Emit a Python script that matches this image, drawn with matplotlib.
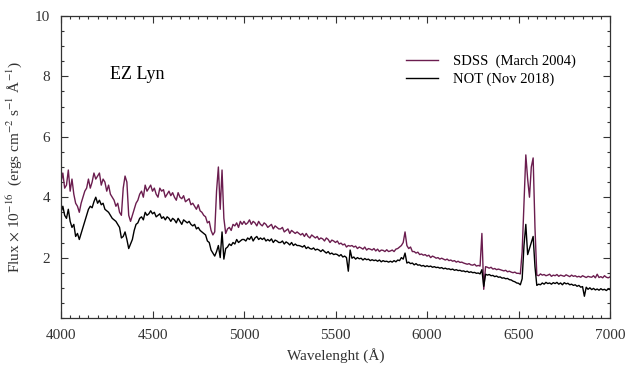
import numpy as np
import matplotlib
matplotlib.use("Agg")
import matplotlib.pyplot as plt
from matplotlib.ticker import MultipleLocator

plt.rcParams['font.family'] = ['Liberation Serif', 'DejaVu Serif']
plt.rcParams['mathtext.fontset'] = 'stix'

# wavelength grid (Angstrom), 10 A steps
wavelength = np.arange(4000, 7001, 10)

sdss_flux = [
    4.5, 4.8, 4.3, 4.4, 4.9, 4.2, 4.6, 4.1, 3.8, 3.7,
    3.5, 3.8, 4.0, 4.2, 4.3, 4.6, 4.3, 4.5, 4.8, 4.6,
    4.7, 4.8, 4.4, 4.6, 4.5, 4.2, 4.4, 4.1, 4.0, 3.9,
    3.7, 3.8, 3.5, 3.4, 4.3, 4.7, 4.5, 3.4, 3.2, 3.4,
    3.6, 3.8, 3.9, 4.1, 4.2, 4.0, 4.4, 4.2, 4.3, 4.4,
    4.2, 4.3, 4.1, 4.0, 4.3, 4.2, 4.25, 4.0, 4.1, 4.2,
    4.05, 4.15, 4.0, 3.9, 4.15, 4.0, 3.95, 4.05, 3.85, 3.9,
    3.95, 3.75, 3.8, 3.7, 3.6, 3.75, 3.55, 3.5, 3.4, 3.35,
    3.15, 3.2, 2.9, 2.75, 2.85, 4.2, 5.0, 3.6, 4.9, 3.3,
    2.8, 2.95, 3.0, 2.9, 3.1, 3.05, 3.15, 3.0, 3.2, 3.1,
    3.2, 3.1, 3.15, 3.25, 3.1, 3.2, 3.15, 3.05, 3.2, 3.1,
    3.05, 3.15, 3.1, 3.0, 3.05, 3.1, 2.95, 3.05, 3.0, 2.95,
    2.95, 3.0, 2.85, 2.9, 2.95, 2.8, 2.9, 2.85, 2.8, 2.85,
    2.8, 2.75, 2.8, 2.7, 2.8, 2.7, 2.65, 2.75, 2.7, 2.65,
    2.7, 2.6, 2.65, 2.62, 2.55, 2.65, 2.6, 2.5, 2.58, 2.55,
    2.5, 2.55, 2.45, 2.48, 2.42, 2.45, 2.35, 2.4, 2.38, 2.4,
    2.35, 2.38, 2.3, 2.35, 2.32, 2.28, 2.35, 2.25, 2.3, 2.28,
    2.25, 2.3, 2.22, 2.28, 2.2, 2.25, 2.24, 2.2, 2.26, 2.2,
    2.22, 2.25, 2.2, 2.28, 2.3, 2.35, 2.4, 2.5, 2.85, 2.4,
    2.3, 2.35, 2.2, 2.2, 2.15, 2.18, 2.1, 2.12, 2.08, 2.1,
    2.05, 2.08, 2.0, 2.05, 2.02, 1.98, 2.0, 1.95, 1.98, 1.95,
    1.92, 1.95, 1.9, 1.92, 1.88, 1.9, 1.85, 1.88, 1.84, 1.85,
    1.82, 1.8, 1.78, 1.8, 1.76, 1.75, 1.78, 1.72, 1.74, 1.72,
    2.8, 0.95, 1.7, 1.68, 1.65, 1.68, 1.62, 1.64, 1.6, 1.62,
    1.6, 1.58, 1.56, 1.58, 1.53, 1.55, 1.52, 1.5, 1.52, 1.48,
    1.48, 1.46, 2.2, 3.8, 5.4, 4.6, 4.0, 5.0, 5.3, 3.0,
    1.42, 1.4, 1.46, 1.42, 1.44, 1.4, 1.42, 1.45, 1.38, 1.42,
    1.4, 1.44, 1.38, 1.42, 1.4, 1.38, 1.43, 1.4, 1.37, 1.42,
    1.38, 1.4, 1.36, 1.38, 1.35, 1.4, 1.37, 1.34, 1.38, 1.36,
    1.35, 1.4, 1.33, 1.45, 1.34, 1.37, 1.33, 1.4, 1.35, 1.33,
    1.36,
]

not_flux = [
    3.5, 3.7, 3.4, 3.3, 3.6, 3.2, 3.0, 3.1, 2.7, 2.8,
    2.6, 2.8, 3.0, 3.2, 3.4, 3.6, 3.7, 3.65, 3.85, 4.0,
    3.8, 3.9, 3.75, 3.8, 3.6, 3.55, 3.5, 3.4, 3.3, 3.25,
    3.2, 3.1, 3.0, 2.65, 2.7, 2.85, 2.6, 2.3, 2.45, 2.6,
    2.9, 3.1, 3.15, 3.3, 3.35, 3.25, 3.5, 3.4, 3.45, 3.55,
    3.45, 3.5, 3.35, 3.4, 3.45, 3.3, 3.35, 3.25, 3.35, 3.3,
    3.2, 3.3, 3.25, 3.15, 3.3, 3.2, 3.1, 3.25, 3.2, 3.15,
    3.2, 3.1, 3.05, 3.1, 2.95, 3.0, 2.9, 2.85, 2.8, 2.75,
    2.55, 2.5, 2.25, 2.15, 2.05, 2.2, 2.4, 2.0, 2.85, 1.95,
    2.3, 2.35, 2.45, 2.4, 2.5, 2.45, 2.6, 2.5, 2.55, 2.6,
    2.6, 2.55, 2.65, 2.6, 2.7, 2.55, 2.65, 2.7, 2.6, 2.65,
    2.6, 2.65, 2.55, 2.6, 2.55, 2.62, 2.5, 2.58, 2.55, 2.5,
    2.5, 2.55, 2.45, 2.52, 2.48, 2.42, 2.5, 2.4, 2.45, 2.4,
    2.4, 2.38, 2.35, 2.4, 2.3, 2.35, 2.3, 2.28, 2.32, 2.25,
    2.28, 2.25, 2.2, 2.26, 2.2, 2.15, 2.2, 2.12, 2.15, 2.1,
    2.12, 2.1, 2.05, 2.1, 2.02, 2.05, 2.0, 1.55, 2.25, 1.98,
    2.02, 1.95, 2.0, 1.96, 1.98, 1.92, 1.97, 1.93, 1.95, 1.9,
    1.93, 1.9, 1.92, 1.88, 1.92, 1.86, 1.9, 1.87, 1.88, 1.85,
    1.88, 1.85, 1.9, 1.86, 1.92, 1.9, 2.0, 1.95, 2.15, 1.82,
    1.85, 1.8, 1.82, 1.76, 1.8, 1.75, 1.76, 1.72, 1.74, 1.7,
    1.73, 1.7, 1.72, 1.68, 1.7, 1.67, 1.68, 1.65, 1.67, 1.63,
    1.65, 1.62, 1.63, 1.6, 1.62, 1.58, 1.6, 1.57, 1.58, 1.55,
    1.56, 1.53, 1.55, 1.51, 1.53, 1.5, 1.51, 1.48, 1.49, 1.46,
    1.6, 1.05, 1.45, 1.42, 1.44, 1.4, 1.41, 1.37, 1.39, 1.35,
    1.36, 1.32, 1.33, 1.3, 1.31, 1.27, 1.26, 1.22, 1.2, 1.16,
    1.15, 1.1, 1.3, 2.4, 3.1, 2.1, 2.3, 2.5, 2.7, 1.7,
    1.08, 1.12, 1.1, 1.16, 1.12, 1.18, 1.14, 1.16, 1.12, 1.17,
    1.14, 1.18, 1.12, 1.16, 1.1, 1.17, 1.13, 1.15, 1.1, 1.12,
    1.08, 1.1, 1.05, 1.08, 1.02, 1.04, 0.72, 1.02, 0.95, 1.0,
    0.94, 0.98, 0.93, 0.96, 0.92, 0.97, 0.93, 0.95, 0.91, 0.96,
    0.94,
]

sdss_label = "SDSS  (March 2004)"
not_label = "NOT (Nov 2018)"
object_name = "EZ Lyn"
x_ticks = [4000, 4500, 5000, 5500, 6000, 6500, 7000]
y_ticks = [2, 4, 6, 8, 10]

purple = "#6b1d4f"

fig = plt.figure(figsize=(6.31, 3.74), dpi=100)
ax = fig.add_axes([61/631, 1 - 318/374, 549/631, 302/374])

ax.plot(wavelength, sdss_flux, color=purple, lw=1.0, label=sdss_label)
ax.plot(wavelength, not_flux, color="black", lw=1.0, label=not_label)

ax.set_xlim(4000, 7000)
ax.set_ylim(0, 10)
ax.set_xticks(x_ticks)
ax.set_yticks(y_ticks)
ax.xaxis.set_minor_locator(MultipleLocator(50))
ax.yaxis.set_minor_locator(MultipleLocator(0.5))
ax.tick_params(which='both', direction='in', top=True, right=True,
               labelsize=11, color='#333333', labelcolor='#333333')
ax.tick_params(which='major', length=5, width=0.8, pad=8)
ax.tick_params(which='minor', length=2.5, width=0.8)
for s in ax.spines.values():
    s.set_linewidth(0.9)
    s.set_color('#333333')

ax.set_xlabel("Wavelenght (Å)", fontsize=11, labelpad=4, color='#333333')
ax.set_ylabel(r"Flux $\times$ 10$^{-16}$  (ergs cm$^{-2}$ s$^{-1}$ Å$^{-1}$)",
              fontsize=11, labelpad=8, color='#333333')

ax.text(0.089, 0.805, object_name, transform=ax.transAxes, fontsize=13,
        va='center', ha='left')

leg = ax.legend(loc='upper left', bbox_to_anchor=(0.615, 0.895), frameon=False,
                fontsize=10.5, handlelength=2.2, handletextpad=1.0,
                borderpad=0, labelspacing=0.3)

fig.savefig("out.png", dpi=100)
